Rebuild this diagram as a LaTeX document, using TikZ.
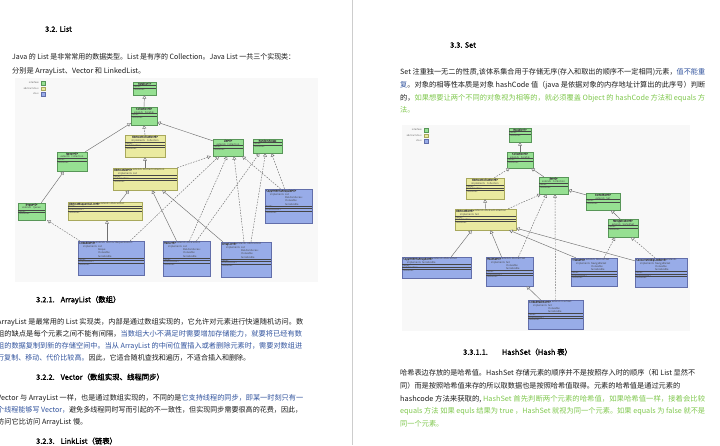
\documentclass[tikz,border=0pt]{standalone}
\usepackage{graphicx}
\usepackage{fontspec}
\setmainfont{Noto Sans CJK SC}
\newfontfamily\hb{Noto Sans CJK SC}[FakeBold=1.5]
\usetikzlibrary{arrows.meta}
\definecolor{txtc}{RGB}{28,28,28}
\definecolor{bluet}{RGB}{50,84,158}
\definecolor{greent}{RGB}{128,200,78}
\definecolor{ifcf}{RGB}{150,224,146}
\definecolor{ifcb}{RGB}{88,150,88}
\definecolor{abcf}{RGB}{234,234,160}
\definecolor{abcb}{RGB}{168,168,92}
\definecolor{clcf}{RGB}{152,172,232}
\definecolor{clcb}{RGB}{98,110,170}
\definecolor{edgec}{RGB}{112,112,112}
\definecolor{panelc}{RGB}{248,248,248}
\definecolor{sepline}{RGB}{205,205,205}
\definecolor{umlt}{RGB}{70,70,70}
\newcommand\fl[2]{\resizebox{#1pt}{\height}{#2}}
\newcommand\utl[1]{{\centering\hb #1\par}}
\newcommand\uc[1]{{\centering #1\par}}
\newcommand\ur[1]{\hspace*{1.2pt}#1\par}
\newcommand\uhd[2]{\hspace*{1.2pt}{\hb #1} #2\par}
\newcommand\uim[1]{\hspace*{5pt}\makebox[15pt][l]{implements}#1\par}
\newcommand\uin[1]{\hspace*{20pt}#1\par}
\newcommand\usep{\vspace{0.25pt}\hrule height 0.18pt\vspace{0.25pt}}
\newcommand\umlfcm{\usep\ur{fields}\usep\ur{constructors}\usep\ur{methods}}
\newcommand\umlfm{\usep\ur{fields}\usep\ur{methods}}
\newcommand\umlb[7]{%
  \pgfmathsetmacro\bw{#4-#2}%
  \pgfmathsetmacro\bh{#5-#3}%
  \node[#6, minimum width=\bw pt, minimum height=\bh pt] (#1) at ({(#2+#4)/2},{(#3+#5)/2}) {};
  \node[umltxt, text width=\bw pt] (#1t) at (#1.north west) {#7};
}
\tikzset{
  body/.style={anchor=west, inner sep=0pt, text=txtc, font=\fontsize{7.2}{8}\selectfont},
  head/.style={anchor=west, inner sep=0pt, text=black, font=\hb\fontsize{7.4}{8}\selectfont},
  ifc/.style={draw=ifcb, fill=ifcf, line width=0.4pt, inner sep=0pt},
  abc/.style={draw=abcb, fill=abcf, line width=0.4pt, inner sep=0pt},
  clc/.style={draw=clcb, fill=clcf, line width=0.4pt, inner sep=0pt},
  umltxt/.style={anchor=north west, inner xsep=0pt, inner ysep=0.7pt, text=umlt, font=\fontsize{2.5}{3.4}\selectfont, align=left},
  ext/.style={draw=edgec, line width=0.45pt, -{Triangle[length=3.4pt,width=3.8pt,fill=white]}},
  impl/.style={ext, dash pattern=on 1.6pt off 1.2pt},
  legt/.style={anchor=east, inner sep=0pt, font=\fontsize{2.4}{3}\selectfont, text=black!60},
  legsq/.style={minimum size=3.6pt, inner sep=0pt, line width=0.2pt},
}
\begin{document}
\begin{tikzpicture}[x=1pt,y=-1pt]
\useasboundingbox (0,0) rectangle (720,445);
\clip (0,0) rectangle (720,445);
\fill[white] (0,0) rectangle (720,445);
% page separator
\draw[sepline, line width=1.2pt] (352.5,0) -- (352.5,445);
% diagram panels
\fill[panelc] (15,78) rectangle (318,282);
\fill[panelc] (402,125) rectangle (690,331);

% ---------------- left column text ----------------
\node[head] (h32) at (45,29) {3.2. List};
\node[body] (p1a) at (12,57) {\fl{283}{Java 的 List 是非常常用的数据类型。List 是有序的 Collection。Java List 一共三个实现类：}};
\node[body] (p1b) at (12,71) {分别是 ArrayList、Vector 和 LinkedList。};

\node[head] (h321) at (36,300) {3.2.1.\hspace{6pt}ArrayList（数组）};
\node[body] (a1) at (-3,322) {\fl{306}{ArrayList 是最常用的 List 实现类，内部是通过数组实现的，它允许对元素进行快速随机访问。数}};
\node[body] (a2) at (-3,334) {\fl{305}{组的缺点是每个元素之间不能有间隔，\textcolor{bluet}{当数组大小不满足时需要增加存储能力，就要将已经有数}}};
\node[body] (a3) at (-3,346) {\fl{305}{\textcolor{bluet}{组的数据复制到新的存储空间中。当从 ArrayList 的中间位置插入或者删除元素时，需要对数组进}}};
\node[body] (a4) at (-3,358) {\fl{253}{\textcolor{bluet}{行复制、移动、代价比较高。}因此，它适合随机查找和遍历，不适合插入和删除。}};

\node[head] (h322) at (36,377) {3.2.2.\hspace{6pt}Vector（数组实现、线程同步）};
\node[body] (v1) at (-3,398) {\fl{306}{Vector 与 ArrayList 一样，也是通过数组实现的，不同的是\textcolor{bluet}{它支持线程的同步，即某一时刻只有一}}};
\node[body] (v2) at (-3,410) {\fl{305}{\textcolor{bluet}{个线程能够写 Vector，}避免多线程同时写而引起的不一致性，但实现同步需要很高的花费，因此，}};
\node[body] (v3) at (-3,422) {访问它比访问 ArrayList 慢。};

\node[head] (h323) at (36,441) {3.2.3.\hspace{6pt}LinkList（链表）};

% ---------------- right column text ----------------
\node[head] (h33) at (450,45) {3.3. Set};
\node[body] (s1) at (400,72) {\fl{305}{Set 注重独一无二的性质,该体系集合用于存储无序(存入和取出的顺序不一定相同)元素，\textcolor{bluet}{值不能重}}};
\node[body] (s2) at (400,85) {\fl{305}{\textcolor{bluet}{复}。对象的相等性本质是对象 hashCode 值（java 是依据对象的内存地址计算出的此序号）判断}};
\node[body] (s3) at (400,98) {\fl{305}{的，\textcolor{greent}{如果想要让两个不同的对象视为相等的，就必须覆盖 Object 的 hashCode 方法和 equals 方}}};
\node[body] (s4) at (400,110) {\textcolor{greent}{法。}};

\node[head] (h3311) at (463,352) {3.3.1.1.\hspace{14pt}HashSet（Hash 表）};
\node[body] (b1) at (400,373) {\fl{295}{哈希表边存放的是哈希值。HashSet 存储元素的顺序并不是按照存入时的顺序（和 List 显然不}};
\node[body] (b2) at (400,386) {\fl{280}{同）而是按照哈希值来存的所以取数据也是按照哈希值取得。元素的哈希值是通过元素的}};
\node[body] (b3) at (400,399) {\fl{305}{hashcode 方法来获取的, \textcolor{greent}{HashSet 首先判断两个元素的哈希值，如果哈希值一样，接着会比较}}};
\node[body] (b4) at (400,411) {\fl{305}{\textcolor{greent}{equals 方法 如果 equls 结果为 true ，HashSet 就视为同一个元素。如果 equals 为 false 就不是}}};
\node[body] (b5) at (400,424) {\textcolor{greent}{同一个元素。}};

% ---------------- legends ----------------
\node[legsq, draw=ifcb, fill=ifcf] (lg1) at (43,83) {};
\node[legsq, draw=abcb, fill=abcf] (lg2) at (43,88.5) {};
\node[legsq, draw=clcb, fill=clcf] (lg3) at (43,94) {};
\node[legt] (lg1t) at (39,83) {interface};
\node[legt] (lg2t) at (39,88.5) {abstract class};
\node[legt] (lg3t) at (39,94) {class};
\node[legsq, draw=ifcb, fill=ifcf] (rg1) at (426,130) {};
\node[legsq, draw=abcb, fill=abcf] (rg2) at (426,135.5) {};
\node[legsq, draw=clcb, fill=clcf] (rg3) at (426,141) {};
\node[legt] (rg1t) at (422,130) {interface};
\node[legt] (rg2t) at (422,135.5) {abstract class};
\node[legt] (rg3t) at (422,141) {class};

% ---------------- left diagram (List) ----------------
\umlb{litr}{133}{82}{156}{95}{ifc}{\utl{Iterable<T>}\umlfm}
\umlb{lcol}{131}{107}{157}{125}{ifc}{\utl{Collection<E>}\uc{extends\ \ Iterable}\umlfm}
\umlb{lacol}{125}{135}{165}{157}{abc}{\utl{AbstractCollection<E>}\uc{implements\ \ Collection}\umlfcm}
\umlb{lque}{57}{152}{87}{171}{ifc}{\utl{Queue<E>}\uc{extends\ \ Collection}\umlfm}
\umlb{llist}{213}{139}{243}{156}{ifc}{\utl{List<E>}\uc{extends\ \ Collection}\umlfm}
\umlb{lra}{253}{139}{282}{153}{ifc}{\utl{RandomAccess}\umlfm}
\umlb{lalist}{113}{168}{177}{190}{abc}{\uhd{AbstractList<E>}{extends AbstractCollection}\uim{List}\umlfcm}
\umlb{ldeq}{18}{203}{45}{220}{ifc}{\utl{Deque<E>}\uc{extends\ \ Queue}\umlfm}
\umlb{lasl}{68}{202}{142}{220}{abc}{\uhd{AbstractSequentialList<E>}{extends AbstractList}\umlfcm}
\umlb{lcow}{265}{189}{312}{223}{clc}{\uhd{CopyOnWriteArrayList<E>}{}\uim{List}\uin{RandomAccess}\uin{Cloneable}\uin{Serializable}\umlfcm}
\umlb{llink}{78}{241}{144}{275}{clc}{\uhd{LinkedList<E>}{extends AbstractSequentialList}\uim{List}\uin{Deque}\uin{Cloneable}\uin{Serializable}\umlfcm}
\umlb{lvec}{163}{241}{210}{276}{clc}{\uhd{Vector<E>}{extends AbstractList}\uim{List}\uin{RandomAccess}\uin{Cloneable}\uin{Serializable}\umlfcm}
\umlb{larr}{221}{242}{271}{277}{clc}{\uhd{ArrayList<E>}{extends AbstractList}\uim{List}\uin{RandomAccess}\uin{Cloneable}\uin{Serializable}\umlfcm}

\draw[ext] (lcol.north) -- (litr.south);
\draw[ext] ([xshift=-2pt]lque.north east) -- ([yshift=2pt]lcol.south west);
\draw[impl] (lacol.north) -- (lcol.south);
\draw[ext] ([yshift=-2pt]llist.north west) -- ([yshift=3pt]lcol.south east);
\draw[ext] (lalist.north) -- (lacol.south);
\draw[impl] (lalist.north east) -- ([xshift=-2pt]llist.south west);
\draw[ext] ([xshift=-4pt]ldeq.north east) -- ([xshift=-8pt]lque.south);
\draw[ext] ([xshift=15pt]lasl.north) -- ([xshift=-16pt]lalist.south);
\draw[ext] ([xshift=-4pt]llink.north) -- ([xshift=2pt]lasl.south);
\draw[impl] ([xshift=2pt]llink.north west) -- ([xshift=2pt]ldeq.south east);
\draw[impl] ([xshift=-14pt]llink.north east) -- ([xshift=-9pt]llist.south);
\draw[ext] ([xshift=-10pt]lvec.north) -- ([xshift=7pt]lalist.south);
\draw[ext] ([xshift=2pt]larr.north west) -- ([xshift=-15pt]lalist.south east);
\draw[impl] ([xshift=3pt]lvec.north) -- ([xshift=-1pt]llist.south);
\draw[impl] ([xshift=10pt]lvec.north) -- ([xshift=-8pt]lra.south);
\draw[impl] ([xshift=-2pt]larr.north) -- ([xshift=6pt]llist.south);
\draw[impl] ([xshift=5pt]larr.north) -- ([xshift=-2pt]lra.south);
\draw[impl] ([xshift=-8pt]lcow.north) -- ([xshift=-1pt]llist.south east);
\draw[impl] ([xshift=-4pt]lcow.north) -- ([xshift=4pt]lra.south);

% ---------------- right diagram (Set) ----------------
\umlb{ritr}{509}{128}{531}{142}{ifc}{\utl{Iterable<T>}\umlfm}
\umlb{rcol}{507}{152}{533}{168}{ifc}{\utl{Collection<E>}\uc{extends\ \ Iterable}\umlfm}
\umlb{racol}{466}{178}{504}{199}{abc}{\utl{AbstractCollection<E>}\uc{implements\ \ Collection}\umlfcm}
\umlb{rset}{539}{177}{568}{194}{ifc}{\utl{Set<E>}\uc{extends\ \ Collection}\umlfm}
\umlb{rsort}{586}{193}{620}{210}{ifc}{\utl{SortedSet<E>}\uc{extends\ \ Set}\umlfm}
\umlb{raset}{455}{209}{516}{230}{abc}{\uhd{AbstractSet<E>}{extends AbstractCollection}\uim{Set}\umlfcm}
\umlb{rnav}{608}{219}{638}{237}{ifc}{\utl{NavigableSet<E>}\uc{extends\ \ SortedSet}\umlfm}
\umlb{rcow}{402}{257}{471}{278}{clc}{\uhd{CopyOnWriteArraySet<E>}{extends AbstractSet}\uim{Serializable}\umlfcm}
\umlb{rhash}{486}{257}{533}{286}{clc}{\uhd{HashSet<E>}{extends AbstractSet}\uim{Set}\uin{Cloneable}\uin{Serializable}\umlfcm}
\umlb{rtree}{571}{258}{617}{286}{clc}{\uhd{TreeSet<E>}{extends AbstractSet}\uim{NavigableSet}\uin{Cloneable}\uin{Serializable}\umlfcm}
\umlb{rcsl}{635}{258}{687}{287}{clc}{\uhd{ConcurrentSkipListSet<E>}{extends}\uim{NavigableSet}\uin{Cloneable}\uin{Serializable}\umlfcm}
\umlb{rlhs}{528}{300}{583}{329}{clc}{\uhd{LinkedHashSet<E>}{extends HashSet}\uim{Set}\uin{Cloneable}\uin{Serializable}\umlfcm}

\draw[ext] (rcol.north) -- (ritr.south);
\draw[impl] ([xshift=-10pt]racol.north east) -- ([xshift=3pt]rcol.south west);
\draw[ext] ([xshift=5pt]rset.north west) -- ([xshift=-2pt]rcol.south east);
\draw[ext] ([yshift=-2pt]rsort.north west) -- ([yshift=-4.5pt]rset.east);
\draw[ext] (raset.north) -- (racol.south);
\draw[impl] ([xshift=-8pt]raset.north east) -- ([xshift=2pt]rset.south west);
\draw[ext] ([xshift=-3pt]rnav.north) -- ([xshift=8pt]rsort.south);
\draw[ext] ([xshift=-20pt]rcow.north east) -- ([xshift=17pt]raset.south west);
\draw[ext] ([xshift=-8pt]rhash.north) -- ([xshift=5pt]raset.south);
\draw[impl] ([xshift=9pt]rhash.north) -- ([xshift=-7pt]rset.south);
\draw[ext] ([xshift=5pt]rtree.north west) -- ([xshift=-7pt]raset.south east);
\draw[impl] ([xshift=10pt]rtree.north) -- ([xshift=-8pt]rnav.south);
\draw[ext] ([yshift=-3pt]rcsl.north west) -- ([yshift=2pt]raset.south east);
\draw[impl] ([xshift=-6pt]rcsl.north) -- ([xshift=8pt]rnav.south);
\draw[ext] ([xshift=-15pt]rlhs.north) -- ([xshift=17pt]rhash.south);
\draw[impl] (rlhs.north) -- ([xshift=1.5pt]rset.south);
\end{tikzpicture}
\end{document}
